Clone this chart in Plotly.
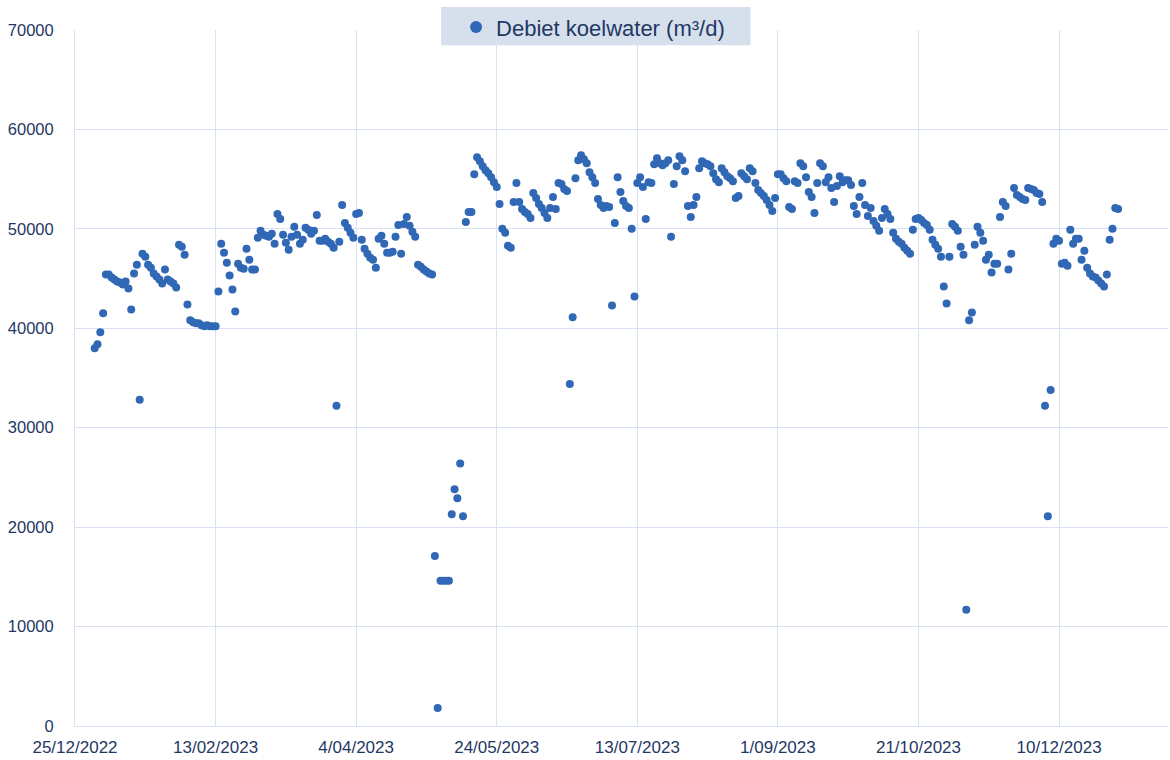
import pandas as pd
import plotly.graph_objects as go

# Daily cooling-water flow for 2023 (m³/d), one value per day starting 1 January
start_date = "2023-01-01"

debiet_jan = [38000, 38400, 39600, 41500, 45400, 45400, 45100, 44900, 44700, 44600,
              44400, 44700, 44000, 41900, 45500, 46400, 32800, 47500, 47200, 46400,
              46100, 45500, 45200, 44900, 44500, 45900, 44900, 44700, 44500, 44100,
              48400]
debiet_feb = [48200, 47400, 42400, 40800, 40600, 40500, 40500, 40300, 40200, 40300,
              40200, 40200, 40200, 43700, 48500, 47600, 46600, 45300, 43900, 41700,
              46500, 46100, 46000, 48000, 46900, 45900, 45900, 49100]
debiet_mar = [49800, 49400, 49300, 49200, 49500, 48500, 51500, 51000, 49400, 48600,
              47900, 49200, 50200, 49400, 48500, 48900, 50100, 49900, 49500, 49800,
              51400, 48800, 48800, 49000, 48700, 48500, 48100, 32200, 48700, 52400,
              50600]
debiet_apr = [50100, 49600, 49100, 51500, 51600, 48900, 48000, 47500, 47100, 46900,
              46100, 49000, 49300, 48500, 47600, 47600, 47700, 49200, 50400, 47500,
              50500, 51200, 50300, 49700, 49200, 46400, 46200, 45900, 45700, 45500]
debiet_mei = [45400, 17100, 1800, 14600, 14600, 14600, 14600, 21300, 23800, 22900,
              26400, 21100, 50700, 51700, 51700, 55500, 57200, 56800, 56300, 55900,
              55600, 55200, 54700, 54200, 52500, 50000, 49600, 48300, 48100, 52700,
              54600]
debiet_jun = [52700, 52000, 51700, 51500, 51100, 53600, 53100, 52500, 52100, 51600,
              51100, 52100, 53200, 52000, 54600, 54500, 54000, 53800, 34400, 41100,
              55100, 56900, 57400, 57000, 56600, 55700, 55200, 54600, 53000, 52400]
debiet_jul = [52100, 52300, 52200, 42300, 50600, 55200, 53700, 52800, 52300, 52100,
              50000, 43200, 54600, 55200, 54200, 51000, 54700, 54600, 56500, 57100,
              56600, 56400, 56600, 56900, 49200, 54500, 56300, 57300, 56900, 55800,
              52300]
debiet_aug = [51200, 52400, 53200, 56100, 56800, 56600, 56500, 56300, 55600, 55000,
              54700, 56100, 55700, 55300, 55100, 54800, 53100, 53300, 55600, 55300,
              55000, 56100, 55800, 54600, 53900, 53600, 53300, 52900, 52400, 51800,
              53100]
debiet_sep = [55500, 55500, 55100, 54800, 52200, 52000, 54800, 54600, 56600, 56300,
              55200, 53700, 53200, 51600, 54600, 56600, 56300, 54700, 55200, 54100,
              52700, 54300, 55300, 54700, 54900, 54900, 54400, 52300, 51500, 53200]
debiet_okt = [54600, 52400, 51300, 52100, 50800, 50300, 49800, 51100, 52000, 51500,
              51000, 49600, 49000, 48700, 48500, 48100, 47800, 47500, 49900, 51000,
              51100, 50900, 50600, 50400, 49900, 48900, 48400, 48000, 47200, 44200,
              42500]
debiet_nov = [47200, 50500, 50200, 49800, 48200, 47400, 11700, 40800, 41600, 48400,
              50200, 49600, 48800, 46900, 47400, 45600, 46500, 46500, 51200, 52700,
              52300, 45900, 47500, 54100, 53400, 53200, 53000, 52900, 54100, 54000]
debiet_dec = [53900, 53600, 53500, 52700, 32200, 21100, 33800, 48500, 49000, 48800,
              46500, 46600, 46300, 49900, 48500, 49000, 49000, 46900, 47800, 46100,
              45500, 45200, 45100, 44800, 44500, 44200, 45400, 48900, 50000, 52100,
              52000]

debiet = (debiet_jan + debiet_feb + debiet_mar + debiet_apr + debiet_mei + debiet_jun
          + debiet_jul + debiet_aug + debiet_sep + debiet_okt + debiet_nov + debiet_dec)
dates = pd.date_range(start_date, periods=len(debiet), freq="D")

# Axis ticks
x_tick_dates = pd.date_range("2022-12-25", periods=8, freq="50D")
x_tick_labels = ["25/12/2022", "13/02/2023", "4/04/2023", "24/05/2023",
                 "13/07/2023", "1/09/2023", "21/10/2023", "10/12/2023"]
y_ticks = [0, 10000, 20000, 30000, 40000, 50000, 60000, 70000]

series_name = "Debiet koelwater (m³/d)"

navy = "#1F3864"
grid = "#D9E2F3"
marker_blue = "#3068B6"
font_family = "Liberation Sans, Arial, sans-serif"

fig = go.Figure()
fig.add_trace(go.Scatter(
    x=dates, y=debiet, mode="markers", name=series_name,
    marker=dict(size=8, color=marker_blue, line=dict(width=0)),
))

fig.update_layout(
    width=1170, height=760,
    margin=dict(l=75, r=2, t=30, b=34, autoexpand=False),
    paper_bgcolor="white", plot_bgcolor="white",
    font=dict(family=font_family, size=17, color=navy),
    showlegend=True,
    legend=dict(
        x=0.474, y=1.004, xanchor="center", yanchor="middle",
        bgcolor="rgba(0,0,0,0)", borderwidth=0,
        font=dict(size=22, color=navy), itemsizing="constant",
    ),
    shapes=[dict(
        type="rect", xref="paper", yref="paper",
        x0=0.335, x1=0.618, y0=0.978, y1=1.033,
        fillcolor="#D6DFEC", line=dict(width=0), layer="below",
    )],
    xaxis=dict(
        range=[pd.Timestamp("2022-12-25"), pd.Timestamp("2024-01-17 18:00")],
        tickvals=x_tick_dates, ticktext=x_tick_labels,
        showgrid=True, gridcolor=grid, gridwidth=1,
        showline=True, linecolor=grid, linewidth=1,
        zeroline=False, ticks="", tickfont=dict(size=17, color=navy),
        ticklabelstandoff=6,
    ),
    yaxis=dict(
        range=[0, 70000], tickvals=y_ticks,
        tickformat="d",
        showgrid=True, gridcolor=grid, gridwidth=1,
        showline=True, linecolor=grid, linewidth=1,
        zeroline=False, ticks="",
        tickfont=dict(size=16.5, color=navy), ticklabelstandoff=17,
    ),
)

fig.write_html("out.html")
